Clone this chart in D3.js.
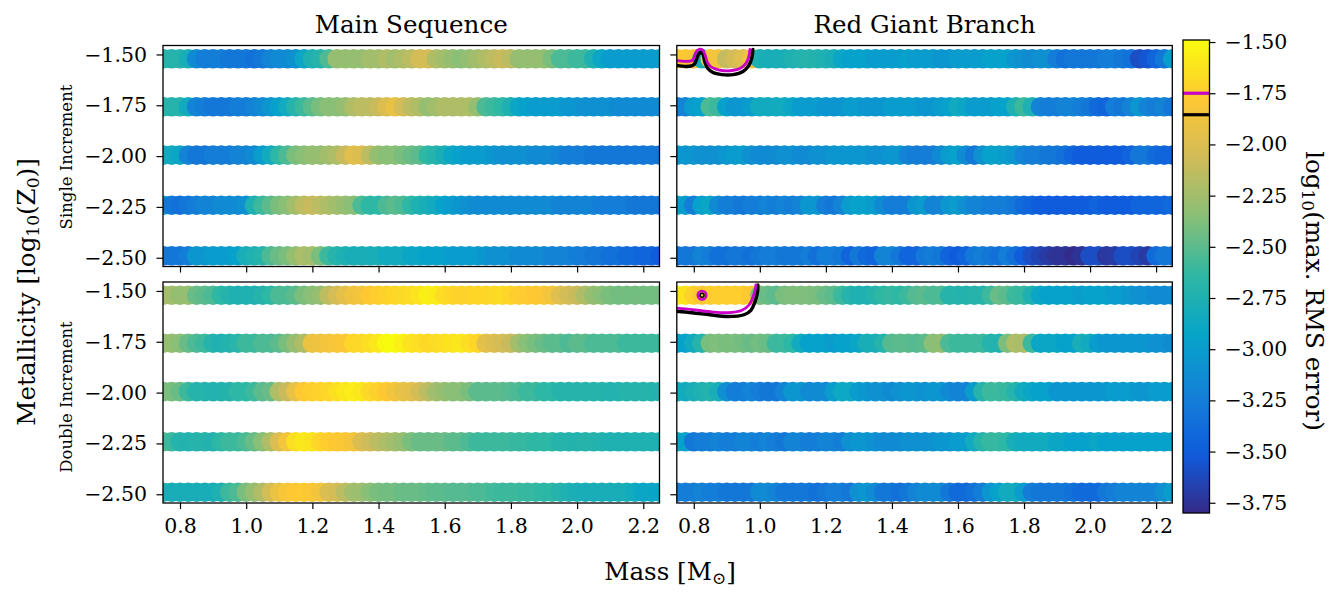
<!DOCTYPE html>
<html>
<head>
<meta charset="utf-8">
<script src="https://cdn.jsdelivr.net/npm/d3@7"></script>
<style>
  body { margin: 0; background: #fff; }
  text { font-family: "DejaVu Serif", serif; fill: #000; }
</style>
</head>
<body>
<svg id="chart" width="1340" height="604"></svg>
<script>
// mass grid [Msun] and metallicity rows [log10 Z0]
const masses = [0.75, 0.775, 0.8, 0.825, 0.85, 0.875, 0.9, 0.925, 0.95, 0.975,
  1.0, 1.025, 1.05, 1.075, 1.1, 1.125, 1.15, 1.175, 1.2, 1.225,
  1.25, 1.275, 1.3, 1.325, 1.35, 1.375, 1.4, 1.425, 1.45, 1.475,
  1.5, 1.525, 1.55, 1.575, 1.6, 1.625, 1.65, 1.675, 1.7, 1.725,
  1.75, 1.775, 1.8, 1.825, 1.85, 1.875, 1.9, 1.925, 1.95, 1.975,
  2.0, 2.025, 2.05, 2.075, 2.1, 2.125, 2.15, 2.175, 2.2, 2.225, 2.25];
const metallicities = [-1.521, -1.757, -1.995, -2.242, -2.49];

// log10(max RMS error), one row per metallicity
const msSingle = [
  [-2.7,-2.7,-2.7,-2.8,-3.15,-3.25,-3.25,-3.25,-3.3,-3.3,-3.3,-3.35,-3.3,-3.2,-3.15,-3.15,-3.1,-2.9,-2.75,-2.7,-2.55,-2.3,-2.3,-2.3,-2.3,-2.25,-2.25,-2.2,-2.25,-2.2,-2.15,-2.05,-2.05,-2.2,-2.25,-2.3,-2.35,-2.3,-2.25,-2.2,-2.15,-2.1,-2.15,-2.3,-2.3,-2.3,-2.3,-2.4,-2.55,-2.55,-2.6,-2.6,-2.75,-2.9,-3.0,-3.0,-3.0,-3.0,-3.0,-3.0,-3.0],
  [-2.7,-2.7,-2.7,-2.85,-3.2,-3.25,-3.3,-3.3,-3.3,-3.25,-3.25,-3.2,-3.15,-3.05,-2.95,-2.85,-2.7,-2.6,-2.5,-2.4,-2.35,-2.35,-2.3,-2.2,-2.15,-2.15,-2.1,-2.0,-1.92,-2.05,-2.15,-2.2,-2.3,-2.25,-2.2,-2.2,-2.2,-2.2,-2.3,-2.55,-2.6,-2.65,-2.75,-2.9,-2.95,-3.0,-3.0,-3.0,-3.0,-3.05,-3.05,-3.1,-3.1,-3.1,-3.1,-3.15,-3.15,-3.15,-3.15,-3.15,-3.15],
  [-2.85,-2.85,-2.9,-3.2,-3.3,-3.3,-3.25,-3.25,-3.25,-3.2,-3.2,-3.15,-3.0,-2.85,-2.65,-2.55,-2.4,-2.35,-2.3,-2.3,-2.25,-2.2,-2.1,-1.97,-2.0,-2.15,-2.3,-2.35,-2.35,-2.4,-2.45,-2.5,-2.65,-2.7,-2.8,-2.9,-2.95,-3.0,-3.0,-3.0,-3.05,-3.1,-3.1,-3.1,-3.1,-3.15,-3.15,-3.15,-3.2,-3.25,-3.25,-3.25,-3.3,-3.3,-3.3,-3.3,-3.3,-3.3,-3.3,-3.3,-3.3],
  [-3.0,-3.3,-3.35,-3.3,-3.25,-3.2,-3.2,-3.15,-3.15,-3.15,-3.1,-2.75,-2.6,-2.5,-2.4,-2.35,-2.25,-2.15,-2.1,-2.15,-2.2,-2.25,-2.3,-2.35,-2.55,-2.65,-2.65,-2.55,-2.5,-2.55,-2.65,-2.75,-2.8,-2.85,-2.95,-3.0,-3.05,-3.1,-3.15,-3.15,-3.15,-3.15,-3.15,-3.15,-3.15,-3.15,-3.15,-3.15,-3.2,-3.2,-3.2,-3.2,-3.2,-3.25,-3.25,-3.25,-3.25,-3.3,-3.3,-3.3,-3.3],
  [-3.3,-3.3,-3.3,-3.25,-3.05,-3.05,-3.0,-3.0,-3.0,-2.95,-2.8,-2.75,-2.7,-2.55,-2.45,-2.4,-2.3,-2.22,-2.25,-2.4,-2.6,-2.7,-2.75,-2.8,-2.8,-2.8,-2.8,-2.85,-2.85,-2.85,-2.9,-2.9,-2.95,-2.95,-2.95,-3.0,-3.0,-3.0,-3.0,-3.05,-3.1,-3.1,-3.1,-3.15,-3.15,-3.15,-3.15,-3.2,-3.2,-3.2,-3.25,-3.25,-3.3,-3.3,-3.35,-3.35,-3.4,-3.4,-3.45,-3.45,-3.5]
];
const rgbSingle = [
  [-1.8,-1.78,-1.8,-2.8,-1.82,-1.85,-2.12,-2.05,-1.98,-1.88,-2.75,-2.8,-2.8,-2.8,-2.75,-2.72,-2.7,-2.72,-2.75,-2.8,-2.9,-2.95,-2.95,-2.95,-3.0,-3.0,-3.0,-3.0,-2.95,-3.0,-3.0,-3.0,-3.05,-3.05,-3.0,-3.0,-3.0,-3.0,-2.95,-2.95,-2.95,-3.05,-3.1,-3.15,-3.1,-3.1,-3.25,-3.35,-3.3,-3.3,-3.3,-3.3,-3.25,-3.25,-3.3,-3.35,-3.6,-3.55,-3.45,-3.3,-3.0],
  [-3.25,-3.2,-3.0,-2.95,-2.55,-2.6,-2.95,-3.05,-3.05,-3.0,-2.85,-2.85,-2.85,-2.85,-2.9,-3.0,-3.0,-3.0,-3.05,-3.05,-3.05,-3.0,-3.0,-3.05,-3.05,-3.05,-3.0,-3.0,-3.0,-3.0,-3.05,-3.05,-3.0,-2.95,-2.85,-2.9,-3.0,-3.0,-3.0,-2.95,-2.95,-2.75,-2.6,-2.75,-3.2,-3.25,-3.25,-3.2,-3.2,-3.25,-3.3,-3.4,-3.45,-3.25,-3.3,-3.2,-3.05,-3.2,-3.25,-3.2,-3.3],
  [-3.05,-3.05,-3.05,-3.1,-3.1,-3.1,-3.05,-3.0,-3.0,-3.1,-3.15,-3.15,-3.15,-3.1,-3.1,-3.15,-3.15,-3.1,-3.1,-3.05,-3.05,-3.05,-3.05,-3.05,-3.1,-3.1,-3.05,-3.05,-3.2,-3.25,-3.25,-3.25,-3.15,-3.0,-2.95,-3.15,-3.3,-3.1,-2.95,-2.95,-3.0,-3.05,-3.2,-3.25,-3.25,-3.3,-3.3,-3.35,-3.45,-3.5,-3.5,-3.5,-3.5,-3.5,-3.5,-3.45,-3.3,-3.3,-3.4,-3.45,-3.45],
  [-2.85,-3.0,-3.25,-2.95,-2.9,-3.15,-3.25,-3.25,-3.3,-3.25,-3.25,-3.2,-3.25,-3.2,-3.25,-3.2,-3.05,-3.05,-3.25,-3.3,-3.2,-3.0,-2.95,-2.95,-3.0,-3.15,-3.25,-3.25,-3.25,-3.05,-3.0,-3.2,-3.2,-3.05,-3.0,-3.1,-3.2,-3.2,-3.25,-3.25,-3.25,-3.3,-3.4,-3.45,-3.5,-3.5,-3.5,-3.5,-3.5,-3.5,-3.5,-3.45,-3.5,-3.5,-3.5,-3.5,-3.45,-3.45,-3.45,-3.45,-3.4],
  [-3.3,-3.3,-3.3,-3.2,-3.25,-3.35,-3.35,-3.3,-3.3,-3.35,-3.3,-3.25,-3.25,-3.3,-3.3,-3.3,-3.25,-3.35,-3.25,-3.25,-3.3,-3.45,-3.3,-3.4,-3.45,-3.2,-3.2,-3.3,-3.45,-3.45,-3.3,-3.25,-3.3,-3.45,-3.5,-3.45,-3.3,-3.25,-3.3,-3.35,-3.25,-3.35,-3.5,-3.6,-3.65,-3.7,-3.75,-3.75,-3.78,-3.75,-3.6,-3.6,-3.72,-3.7,-3.6,-3.6,-3.65,-3.7,-3.4,-3.3,-3.3]
];
const msDouble = [
  [-2.25,-2.25,-2.3,-2.3,-2.45,-2.5,-2.55,-2.65,-2.7,-2.75,-2.75,-2.75,-2.7,-2.65,-2.55,-2.55,-2.5,-2.4,-2.35,-2.3,-2.15,-2.05,-1.95,-1.88,-1.85,-1.78,-1.75,-1.72,-1.7,-1.68,-1.66,-1.62,-1.55,-1.58,-1.66,-1.7,-1.72,-1.72,-1.7,-1.7,-1.68,-1.67,-1.7,-1.75,-1.76,-1.78,-1.8,-1.85,-1.98,-2.05,-2.1,-2.2,-2.3,-2.35,-2.4,-2.42,-2.42,-2.42,-2.42,-2.42,-2.42],
  [-2.3,-2.3,-2.35,-2.45,-2.55,-2.6,-2.7,-2.75,-2.72,-2.68,-2.6,-2.6,-2.55,-2.55,-2.5,-2.4,-2.3,-2.2,-1.9,-1.88,-1.85,-1.82,-1.8,-1.7,-1.68,-1.65,-1.6,-1.5,-1.49,-1.55,-1.62,-1.65,-1.68,-1.67,-1.65,-1.62,-1.6,-1.65,-1.7,-1.95,-2.0,-2.05,-2.1,-2.25,-2.35,-2.4,-2.45,-2.5,-2.5,-2.55,-2.5,-2.5,-2.55,-2.55,-2.55,-2.55,-2.6,-2.6,-2.6,-2.6,-2.6],
  [-2.4,-2.4,-2.45,-2.6,-2.7,-2.7,-2.72,-2.72,-2.7,-2.65,-2.65,-2.6,-2.5,-2.45,-2.2,-2.1,-1.92,-1.78,-1.75,-1.72,-1.7,-1.65,-1.6,-1.57,-1.6,-1.68,-1.73,-1.78,-1.85,-1.92,-1.95,-2.05,-2.15,-2.25,-2.3,-2.35,-2.35,-2.4,-2.5,-2.5,-2.5,-2.5,-2.52,-2.55,-2.6,-2.6,-2.65,-2.65,-2.7,-2.7,-2.7,-2.7,-2.7,-2.7,-2.72,-2.72,-2.7,-2.7,-2.7,-2.7,-2.72],
  [-2.5,-2.6,-2.7,-2.72,-2.7,-2.7,-2.72,-2.65,-2.6,-2.6,-2.55,-2.45,-2.35,-2.2,-2.0,-1.85,-1.65,-1.6,-1.62,-1.7,-1.75,-1.78,-1.8,-1.85,-2.0,-2.08,-2.15,-2.2,-2.25,-2.3,-2.4,-2.45,-2.45,-2.45,-2.45,-2.5,-2.5,-2.55,-2.6,-2.6,-2.6,-2.6,-2.6,-2.62,-2.62,-2.65,-2.65,-2.65,-2.7,-2.7,-2.72,-2.7,-2.7,-2.72,-2.75,-2.75,-2.75,-2.75,-2.75,-2.75,-2.75],
  [-2.75,-2.8,-2.8,-2.8,-2.8,-2.8,-2.8,-2.75,-2.6,-2.55,-2.4,-2.3,-2.2,-2.05,-1.9,-1.82,-1.78,-1.77,-1.8,-1.85,-2.0,-2.05,-2.15,-2.25,-2.28,-2.35,-2.4,-2.42,-2.42,-2.45,-2.45,-2.45,-2.48,-2.5,-2.5,-2.52,-2.52,-2.52,-2.55,-2.55,-2.58,-2.6,-2.6,-2.6,-2.62,-2.62,-2.65,-2.65,-2.7,-2.75,-2.78,-2.8,-2.8,-2.8,-2.8,-2.8,-2.8,-2.85,-2.9,-2.9,-2.92]
];
const rgbDouble = [
  [-1.58,-1.62,-1.72,-1.8,-1.75,-1.75,-1.75,-1.75,-1.75,-1.78,-2.4,-2.45,-2.5,-2.4,-2.38,-2.38,-2.38,-2.4,-2.45,-2.5,-2.6,-2.7,-2.75,-2.75,-2.7,-2.65,-2.62,-2.65,-2.6,-2.52,-2.5,-2.55,-2.55,-2.7,-2.7,-2.72,-2.7,-2.7,-2.6,-2.45,-2.5,-2.6,-2.62,-2.75,-2.9,-2.95,-2.95,-2.95,-2.95,-3.0,-2.95,-2.95,-2.95,-3.0,-3.0,-3.05,-3.1,-3.1,-3.15,-3.15,-3.15],
  [-2.95,-2.95,-2.85,-2.7,-2.4,-2.38,-2.4,-2.4,-2.42,-2.45,-2.42,-2.45,-2.6,-2.6,-2.65,-2.85,-2.95,-2.95,-2.95,-3.0,-2.95,-2.95,-2.9,-2.8,-2.8,-2.7,-2.52,-2.5,-2.5,-2.52,-2.5,-2.35,-2.32,-2.55,-2.6,-2.6,-2.6,-2.6,-2.7,-2.72,-2.4,-2.2,-2.22,-2.6,-2.9,-2.9,-2.9,-2.95,-2.95,-2.8,-2.85,-3.0,-3.05,-3.05,-3.05,-3.05,-3.05,-3.05,-3.1,-3.1,-3.15],
  [-2.85,-2.85,-2.8,-2.75,-2.72,-2.8,-3.1,-3.25,-3.25,-3.2,-3.25,-3.3,-3.3,-3.2,-3.05,-3.05,-3.15,-3.15,-3.15,-3.0,-2.88,-2.88,-3.0,-3.05,-3.1,-3.1,-3.15,-3.1,-3.05,-3.05,-3.1,-3.05,-3.05,-3.15,-3.2,-3.2,-3.0,-2.7,-2.6,-2.6,-2.62,-2.7,-2.85,-2.9,-2.95,-2.95,-3.05,-3.05,-3.05,-3.05,-3.05,-3.05,-3.05,-3.0,-3.0,-3.0,-3.05,-3.05,-3.0,-3.0,-3.0],
  [-2.85,-2.95,-3.3,-3.25,-3.25,-3.2,-3.25,-3.25,-3.2,-3.2,-3.25,-3.2,-3.25,-3.3,-3.2,-3.2,-3.25,-3.25,-3.2,-3.2,-3.25,-3.1,-3.05,-3.05,-3.1,-3.15,-3.15,-3.15,-3.1,-3.1,-3.1,-3.1,-3.05,-3.05,-3.0,-3.0,-2.85,-2.7,-2.62,-2.62,-2.65,-2.8,-2.85,-2.85,-2.85,-2.85,-2.9,-2.9,-2.95,-2.95,-2.95,-2.9,-2.95,-2.95,-2.95,-2.95,-2.95,-2.95,-2.95,-2.95,-2.95],
  [-3.25,-3.25,-3.25,-3.2,-3.25,-3.25,-3.3,-3.3,-3.3,-3.3,-3.15,-3.15,-3.2,-3.3,-3.3,-3.3,-3.3,-3.35,-3.3,-3.25,-3.25,-3.3,-3.1,-3.05,-3.15,-3.3,-3.3,-3.35,-3.3,-3.2,-3.15,-3.15,-3.15,-3.3,-3.4,-3.4,-3.35,-3.25,-3.05,-2.95,-2.85,-2.85,-3.0,-3.25,-3.3,-3.3,-3.3,-3.3,-3.35,-3.4,-3.4,-3.4,-3.3,-3.25,-3.2,-3.2,-3.2,-3.2,-3.2,-3.1,-3.0]
];

// contour levels of the error and their traces [mass, log10 Z0]
const levels = [-1.75, -1.855];
const levelColors = ["#c800c8", "#000000"];
const rgbSingleMagenta = [[0.7486,-1.53],[0.774,-1.534],[0.795,-1.53],[0.801,-1.515],[0.805,-1.495],[0.811,-1.48],[0.819,-1.474],[0.827,-1.479],[0.832,-1.493],[0.836,-1.512],[0.841,-1.538],[0.85,-1.558],[0.865,-1.571],[0.885,-1.579],[0.916,-1.579],[0.94,-1.569],[0.958,-1.544],[0.967,-1.51],[0.97,-1.475]];
const rgbSingleBlack = [[0.7486,-1.554],[0.777,-1.559],[0.795,-1.555],[0.803,-1.545],[0.808,-1.527],[0.812,-1.507],[0.817,-1.494],[0.822,-1.49],[0.827,-1.496],[0.83,-1.512],[0.834,-1.54],[0.842,-1.568],[0.858,-1.589],[0.885,-1.599],[0.919,-1.599],[0.949,-1.584],[0.967,-1.554],[0.976,-1.515],[0.979,-1.475]];
const rgbDoubleMagenta = [[0.7486,-1.585],[0.795,-1.592],[0.849,-1.602],[0.904,-1.607],[0.946,-1.595],[0.967,-1.57],[0.979,-1.531],[0.987,-1.487],[0.988,-1.47]];
const rgbDoubleBlack = [[0.7486,-1.6],[0.795,-1.607],[0.849,-1.617],[0.904,-1.626],[0.952,-1.617],[0.973,-1.595],[0.985,-1.555],[0.993,-1.506],[0.994,-1.47]];
const rgbDoubleDips = [[0.825, -1.521]];

const yTicks = [-1.5, -1.75, -2.0, -2.25, -2.5];
const xTicks = [0.8, 1.0, 1.2, 1.4, 1.6, 1.8, 2.0, 2.2];
const cbTicks = [-1.5, -1.75, -2.0, -2.25, -2.5, -2.75, -3.0, -3.25, -3.5, -3.75];
const parula = ["#352a87", "#0f5cdd", "#1481d6", "#06a4ca", "#2eb7a4", "#87bf77", "#d1bb59", "#fec832", "#f9fb0e"];

const svg = d3.select("#chart");
const fmt = d3.format(".2f");
const tickFont = "20.5px", labelFont = "24.6px", subFont = "17px";
const cmin = -3.80, cmax = -1.49;
const color = d3.scaleSequential([cmin, cmax], d3.piecewise(d3.interpolateRgb, parula)).clamp(true);

const cols = [[163, 659.5], [676.8, 1172.3]];
const rows = [[45.5, 266.5], [282, 503]];

const panels = [
  { data: msSingle, c: 0, r: 0, title: "Main Sequence" },
  { data: rgbSingle, c: 1, r: 0, title: "Red Giant Branch",
    lines: [rgbSingleBlack, rgbSingleMagenta] },
  { data: msDouble, c: 0, r: 1 },
  { data: rgbDouble, c: 1, r: 1, lines: [rgbDoubleBlack, rgbDoubleMagenta], dips: rgbDoubleDips }
];

panels.forEach((p, k) => {
  let x = d3.scaleLinear().domain([0.7486, 2.249]).range(cols[p.c]);
  let y = d3.scaleLinear().domain([-2.543, -1.456]).range([rows[p.r][1], rows[p.r][0]]);
  let w = cols[p.c][1] - cols[p.c][0], h = rows[p.r][1] - rows[p.r][0];

  svg.append("clipPath").attr("id", "clip" + k)
    .append("rect").attr("x", cols[p.c][0]).attr("y", rows[p.r][0]).attr("width", w).attr("height", h);

  let g = svg.append("g").attr("clip-path", "url(#clip" + k + ")");

  metallicities.forEach((z, j) => {
    g.selectAll(".pt" + j)
      .data(p.data[j])
      .enter()
      .append("circle")
      .attr("cx", (d, i) => x(masses[i]))
      .attr("cy", y(z))
      .attr("r", 9.8)
      .style("fill", d => color(d));
  });

  // contour traces: black below, magenta on top
  if (p.lines) {
    let line = d3.line().x(d => x(d[0])).y(d => y(d[1])).curve(d3.curveCatmullRom);
    p.lines.forEach((pts, m) => {
      g.append("path")
        .attr("d", line(pts))
        .style("fill", "none")
        .style("stroke", m == 0 ? levelColors[1] : levelColors[0])
        .style("stroke-width", m == 0 ? 3.4 : 2.8)
        .style("stroke-linecap", "round");
    });
  }
  if (p.dips) {
    p.dips.forEach(d => {
      g.append("circle").attr("cx", x(d[0])).attr("cy", y(d[1])).attr("r", 4.3)
        .style("fill", "none").style("stroke", levelColors[0]).style("stroke-width", 2.5);
      g.append("circle").attr("cx", x(d[0])).attr("cy", y(d[1])).attr("r", 2)
        .style("fill", "none").style("stroke", levelColors[1]).style("stroke-width", 1.6);
    });
  }

  // axes
  let ya = svg.append("g").attr("class", "y axis")
    .attr("transform", "translate(" + cols[p.c][0] + ",0)")
    .call(d3.axisLeft(y).tickValues(yTicks).tickSize(6.5).tickPadding(9.5)
      .tickFormat(p.c == 0 ? fmt : ""));
  let xa = svg.append("g").attr("class", "x axis")
    .attr("transform", "translate(0," + rows[p.r][1] + ")")
    .call(d3.axisBottom(x).tickValues(xTicks).tickSize(6).tickPadding(9)
      .tickFormat(p.r == 1 ? d3.format(".1f") : ""));
  [ya, xa].forEach(a => {
    a.select(".domain").remove();
    a.selectAll("line").style("stroke", "#000").style("stroke-width", 1.2);
    a.selectAll("text").style("font-family", "DejaVu Serif").style("font-size", tickFont).style("fill", "#000");
  });

  svg.append("rect")
    .attr("x", cols[p.c][0]).attr("y", rows[p.r][0]).attr("width", w).attr("height", h)
    .style("fill", "none").style("stroke", "#000").style("stroke-width", 1.3);

  if (p.title) {
    svg.append("text")
      .attr("x", (cols[p.c][0] + cols[p.c][1]) / 2).attr("y", 33)
      .attr("text-anchor", "middle").style("font-size", labelFont)
      .text(p.title);
  }
});

// row labels
[["Single Increment", 157], ["Double Increment", 397]].forEach(d => {
  svg.append("text")
    .attr("transform", "translate(72," + d[1] + ") rotate(-90)")
    .attr("text-anchor", "middle").style("font-size", "16.5px")
    .text(d[0]);
});

// y label
let yl = svg.append("text")
  .attr("transform", "translate(35,292) rotate(-90)")
  .attr("text-anchor", "middle").style("font-size", labelFont);
yl.append("tspan").text("Metallicity [log");
yl.append("tspan").attr("baseline-shift", "-25%").style("font-size", subFont).text("10");
yl.append("tspan").text("(Z");
yl.append("tspan").attr("baseline-shift", "-25%").style("font-size", subFont).text("0");
yl.append("tspan").text(")]");

// x label
let xl = svg.append("text")
  .attr("x", 670).attr("y", 580)
  .attr("text-anchor", "middle").style("font-size", labelFont);
xl.append("tspan").text("Mass [M");
xl.append("tspan").attr("baseline-shift", "-25%").style("font-size", subFont).text("\u2299");
xl.append("tspan").text("]");

// colorbar
let cbX = 1183, cbW = 26.5, cbTop = 40, cbBot = 513;
let cy = d3.scaleLinear().domain([cmin, cmax]).range([cbBot, cbTop]);
let grad = svg.append("defs").append("linearGradient").attr("id", "cbgrad")
  .attr("x1", 0).attr("y1", 1).attr("x2", 0).attr("y2", 0);
d3.range(0, 1.0001, 0.02).forEach(t => {
  grad.append("stop").attr("offset", t).attr("stop-color", color(cmin + t * (cmax - cmin)));
});
svg.append("rect").attr("x", cbX).attr("y", cbTop).attr("width", cbW).attr("height", cbBot - cbTop)
  .style("fill", "url(#cbgrad)");
levels.forEach((lv, m) => {
  svg.append("line").attr("x1", cbX).attr("x2", cbX + cbW).attr("y1", cy(lv)).attr("y2", cy(lv))
    .style("stroke", levelColors[m]).style("stroke-width", 3.2);
});
svg.append("rect").attr("x", cbX).attr("y", cbTop).attr("width", cbW).attr("height", cbBot - cbTop)
  .style("fill", "none").style("stroke", "#000").style("stroke-width", 1.3);
let ca = svg.append("g").attr("transform", "translate(" + (cbX + cbW) + ",0)")
  .call(d3.axisRight(cy).tickValues(cbTicks).tickSize(6).tickPadding(9).tickFormat(fmt));
ca.select(".domain").remove();
ca.selectAll("line").style("stroke", "#000").style("stroke-width", 1.2);
ca.selectAll("text").style("font-family", "DejaVu Serif").style("font-size", tickFont).style("fill", "#000");

let cl = svg.append("text")
  .attr("transform", "translate(1306,291) rotate(90)")
  .attr("text-anchor", "middle").style("font-size", labelFont);
cl.append("tspan").text("log");
cl.append("tspan").attr("baseline-shift", "-25%").style("font-size", subFont).text("10");
cl.append("tspan").text("(max. RMS error)");
</script>
</body>
</html>
